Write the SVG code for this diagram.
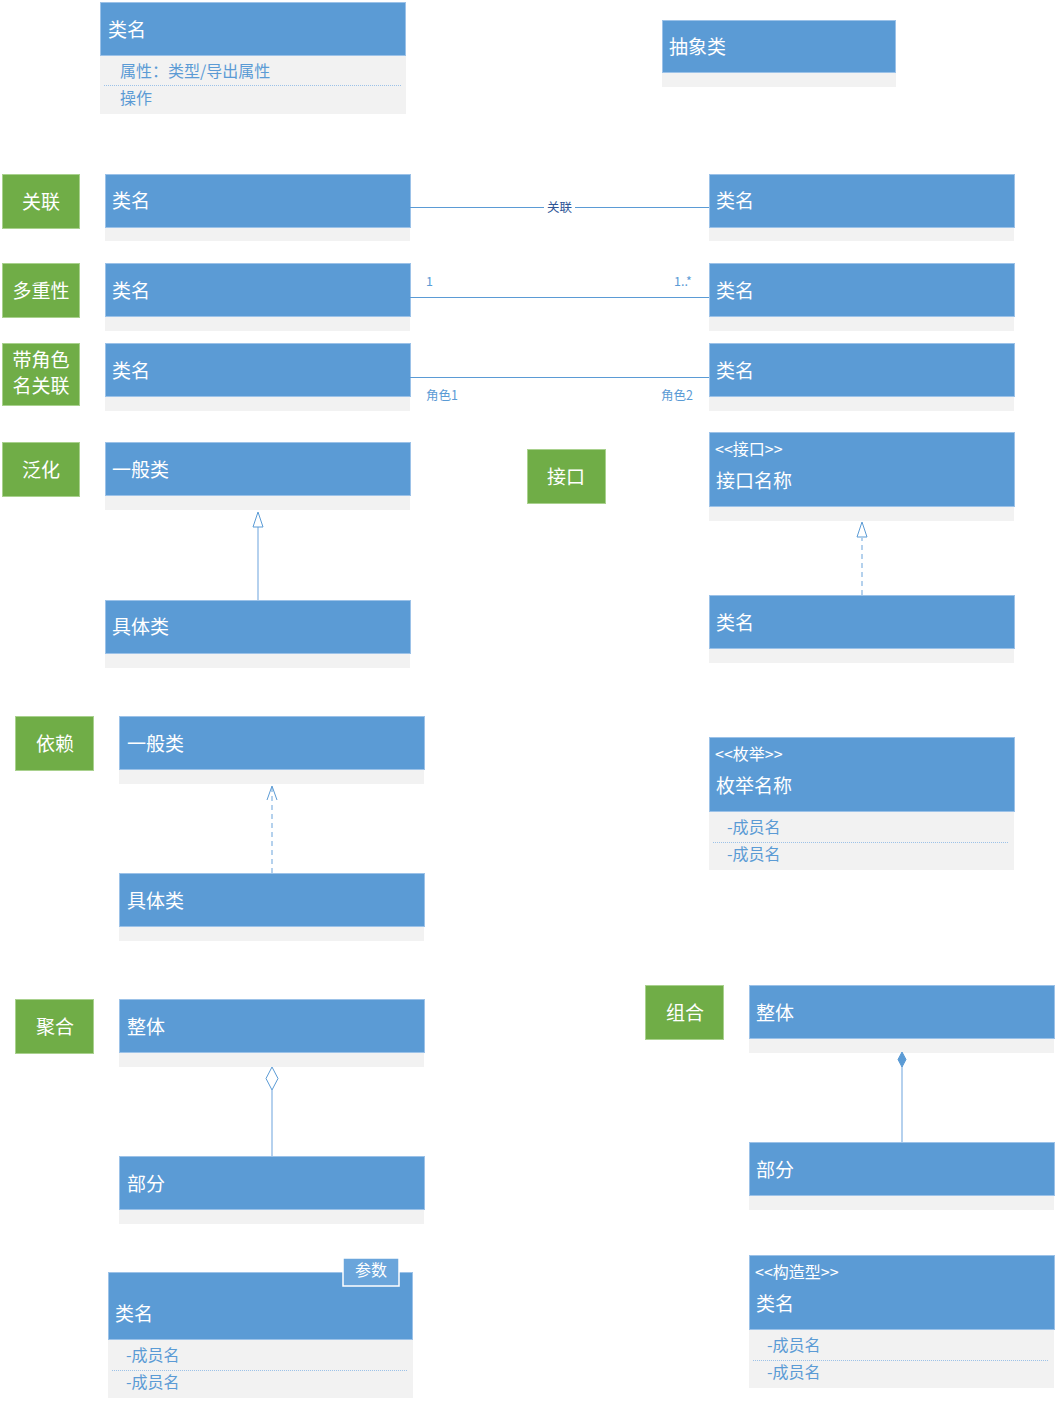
<svg xmlns="http://www.w3.org/2000/svg" width="1056" height="1403" viewBox="0 0 1056 1403">
<style>
text{font-family:"Noto Sans CJK SC","Noto Sans",sans-serif}
.hd{fill:#5B9BD5;stroke:#9CC2E8;stroke-width:1}
.bd{fill:#F2F2F2}
.lb{fill:#70AD47;stroke:#A9D18E;stroke-width:1}
.t{fill:#fff;font-size:19px;dominant-baseline:central}
.st{fill:#fff;font-size:16px;dominant-baseline:central}
.lt{fill:#fff;font-size:19px;dominant-baseline:central;text-anchor:middle}
.m{fill:#5B9BD5;font-size:16px;dominant-baseline:central}
.s{fill:#5B9BD5;font-size:12.5px;dominant-baseline:central}
.dot{stroke:#9CC2E8;stroke-width:1;stroke-dasharray:1 1}
.ln{stroke:#5B9BD5;stroke-width:1;fill:none}
.lnl{stroke:#9CC2E8;stroke-width:1.5;fill:none}
.dash{stroke:#9CC2E8;stroke-width:1.5;fill:none;stroke-dasharray:5 4}
</style>
<rect width="1056" height="1403" fill="#fff"/>

<g id="class-basic">
<rect class="bd" x="100" y="56" width="306" height="58"/>
<rect class="hd" x="100.5" y="2.5" width="305" height="53"/>
<text class="t" x="108" y="28">类名</text>
<text class="m" x="120" y="70">属性：类型/导出属性</text>
<line class="dot" x1="104" y1="85.5" x2="401" y2="85.5"/>
<text class="m" x="120" y="97">操作</text>
</g>

<g id="class-abstract">
<rect class="bd" x="662" y="73" width="234" height="14"/>
<rect class="hd" x="662.5" y="20.5" width="233" height="52"/>
<text class="t" x="669" y="45">抽象类</text>
</g>

<g id="label-assoc"><rect class="lb" x="2.5" y="174.5" width="77" height="54"/><text class="lt" x="41" y="200">关联</text></g>
<g id="assoc-left"><rect class="bd" x="105" y="228" width="305" height="13"/><rect class="hd" x="105.5" y="174.5" width="305" height="53"/><text class="t" x="112" y="199">类名</text></g>
<g id="assoc-right"><rect class="bd" x="709" y="228" width="305" height="13"/><rect class="hd" x="709.5" y="174.5" width="305" height="53"/><text class="t" x="716" y="199">类名</text></g>

<g id="label-mult"><rect class="lb" x="2.5" y="263.5" width="77" height="54"/><text class="lt" x="41" y="289">多重性</text></g>
<g id="mult-left"><rect class="bd" x="105" y="317" width="305" height="14"/><rect class="hd" x="105.5" y="263.5" width="305" height="53"/><text class="t" x="112" y="289">类名</text></g>
<g id="mult-right"><rect class="bd" x="709" y="317" width="305" height="14"/><rect class="hd" x="709.5" y="263.5" width="305" height="53"/><text class="t" x="716" y="289">类名</text></g>

<g id="label-role"><rect class="lb" x="2.5" y="343.5" width="77" height="62"/><text class="lt" x="41" y="358">带角色</text><text class="lt" x="41" y="384">名关联</text></g>
<g id="role-left"><rect class="bd" x="105" y="397" width="305" height="14"/><rect class="hd" x="105.5" y="343.5" width="305" height="53"/><text class="t" x="112" y="369">类名</text></g>
<g id="role-right"><rect class="bd" x="709" y="397" width="305" height="14"/><rect class="hd" x="709.5" y="343.5" width="305" height="53"/><text class="t" x="716" y="369">类名</text></g>

<g id="label-gen"><rect class="lb" x="2.5" y="442.5" width="77" height="54"/><text class="lt" x="41" y="468">泛化</text></g>
<g id="gen-general"><rect class="bd" x="105" y="496" width="305" height="14"/><rect class="hd" x="105.5" y="442.5" width="305" height="53"/><text class="t" x="112" y="468">一般类</text></g>
<g id="gen-specific"><rect class="bd" x="105" y="654" width="305" height="14"/><rect class="hd" x="105.5" y="600.5" width="305" height="53"/><text class="t" x="112" y="625">具体类</text></g>

<g id="label-iface"><rect class="lb" x="527.5" y="449.5" width="78" height="54"/><text class="lt" x="566" y="475">接口</text></g>
<g id="iface"><rect class="bd" x="709" y="507" width="305" height="14"/><rect class="hd" x="709.5" y="432.5" width="305" height="74"/><text class="st" x="715" y="448">&lt;&lt;接口&gt;&gt;</text><text class="t" x="716" y="479">接口名称</text></g>
<g id="iface-impl"><rect class="bd" x="709" y="649" width="305" height="14"/><rect class="hd" x="709.5" y="595.5" width="305" height="53"/><text class="t" x="716" y="621">类名</text></g>

<g id="label-dep"><rect class="lb" x="15.5" y="716.5" width="78" height="54"/><text class="lt" x="55" y="742">依赖</text></g>
<g id="dep-general"><rect class="bd" x="119" y="770" width="305" height="14"/><rect class="hd" x="119.5" y="716.5" width="305" height="53"/><text class="t" x="127" y="742">一般类</text></g>
<g id="dep-specific"><rect class="bd" x="119" y="927" width="305" height="14"/><rect class="hd" x="119.5" y="873.5" width="305" height="53"/><text class="t" x="127" y="899">具体类</text></g>

<g id="enum"><rect class="bd" x="709" y="812" width="305" height="58"/><rect class="hd" x="709.5" y="737.5" width="305" height="74"/><text class="st" x="715" y="753">&lt;&lt;枚举&gt;&gt;</text><text class="t" x="716" y="784">枚举名称</text><text class="m" x="727" y="826">-成员名</text><line class="dot" x1="713" y1="842.5" x2="1009" y2="842.5"/><text class="m" x="727" y="853">-成员名</text></g>

<g id="label-agg"><rect class="lb" x="15.5" y="999.5" width="78" height="54"/><text class="lt" x="55" y="1025">聚合</text></g>
<g id="agg-whole"><rect class="bd" x="119" y="1053" width="305" height="14"/><rect class="hd" x="119.5" y="999.5" width="305" height="53"/><text class="t" x="127" y="1025">整体</text></g>
<g id="agg-part"><rect class="bd" x="119" y="1210" width="305" height="14"/><rect class="hd" x="119.5" y="1156.5" width="305" height="53"/><text class="t" x="127" y="1182">部分</text></g>

<g id="label-comp"><rect class="lb" x="645.5" y="985.5" width="78" height="54"/><text class="lt" x="685" y="1011">组合</text></g>
<g id="comp-whole"><rect class="bd" x="749" y="1039" width="305" height="14"/><rect class="hd" x="749.5" y="985.5" width="305" height="53"/><text class="t" x="756" y="1011">整体</text></g>
<g id="comp-part"><rect class="bd" x="749" y="1196" width="305" height="14"/><rect class="hd" x="749.5" y="1142.5" width="305" height="53"/><text class="t" x="756" y="1168">部分</text></g>

<g id="class-param"><rect class="bd" x="108" y="1340" width="305" height="58"/><rect class="hd" x="108.5" y="1272.5" width="304" height="67"/><text class="t" x="115" y="1312">类名</text><text class="m" x="126" y="1354">-成员名</text><line class="dot" x1="112" y1="1370.5" x2="408" y2="1370.5"/><text class="m" x="126" y="1381">-成员名</text>
<rect x="343" y="1258" width="56" height="28" fill="#6AA5DB" stroke="#fff" stroke-width="1.5"/><text class="st" x="371" y="1269" text-anchor="middle">参数</text></g>

<g id="class-stereo"><rect class="bd" x="749" y="1330" width="305" height="58"/><rect class="hd" x="749.5" y="1255.5" width="305" height="74"/><text class="st" x="755" y="1271">&lt;&lt;构造型&gt;&gt;</text><text class="t" x="756" y="1302">类名</text><text class="m" x="767" y="1344">-成员名</text><line class="dot" x1="753" y1="1360.5" x2="1049" y2="1360.5"/><text class="m" x="767" y="1371">-成员名</text></g>

<g id="connectors">
<line class="ln" x1="410" y1="207.5" x2="709" y2="207.5"/>
<rect x="544" y="200" width="31" height="14" fill="#fff"/>
<text x="559.5" y="206.5" font-size="12.5" fill="#2F5597" text-anchor="middle" dominant-baseline="central">关联</text>
<line class="ln" x1="410" y1="297.5" x2="709" y2="297.5"/>
<text class="s" x="426" y="280">1</text>
<text class="s" x="674" y="280">1..*</text>
<line class="ln" x1="410" y1="377.5" x2="709" y2="377.5"/>
<text class="s" x="426" y="394">角色1</text>
<text class="s" x="661" y="394">角色2</text>

<line class="lnl" x1="258" y1="600" x2="258" y2="527"/>
<path d="M258 512 L253 527 L263 527 Z" fill="#fff" stroke="#5B9BD5" stroke-width="1"/>

<line class="dash" x1="862" y1="595" x2="862" y2="538"/>
<path d="M862 522 L857 537 L867 537 Z" fill="#fff" stroke="#5B9BD5" stroke-width="1"/>

<line class="dash" x1="272" y1="873" x2="272" y2="788"/>
<path d="M267 800 L272 786 L277 800" fill="none" stroke="#5B9BD5" stroke-width="1"/>

<line class="lnl" x1="272" y1="1156" x2="272" y2="1090"/>
<path d="M272 1067 L278 1078.5 L272 1090 L266 1078.5 Z" fill="#fff" stroke="#5B9BD5" stroke-width="1"/>

<line class="lnl" x1="902" y1="1142" x2="902" y2="1066"/>
<path d="M902 1052 L906 1059.5 L902 1067 L898 1059.5 Z" fill="#5B9BD5" stroke="#5B9BD5" stroke-width="1"/>
</g>
</svg>
